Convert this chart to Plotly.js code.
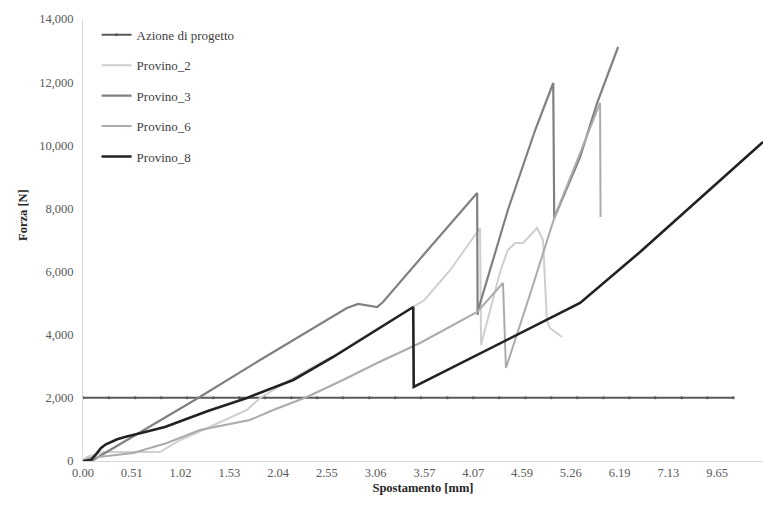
<!DOCTYPE html>
<html>
<head>
<meta charset="utf-8">
<script src="https://cdn.plot.ly/plotly-3.0.1.min.js"></script>
<style>html,body{margin:0;padding:0;background:#fff;}#chart{width:763px;height:509px;}</style>
</head>
<body>
<div id="chart"></div>
<script>
// Category tick labels (x axis is a category-style axis: position index -> label)
const tickPos = [0,1,2,3,4,5,6,7,8,9,10,11,12,13];
const tickLabels = ["0.00","0.51","1.02","1.53","2.04","2.55","3.06","3.57","4.07","4.59","5.26","6.19","7.13","9.65"];

// Azione di progetto (design load)
const azioneX = [0,0.53,1.07,1.60,2.13,2.67,3.20,3.73,4.27,4.80,5.33,5.87,6.40,6.93,7.47,8.00,8.53,9.07,9.60,10.13,10.67,11.20,11.73,12.27,12.80,13.33];
const azioneY = [2000,2000,2000,2000,2000,2000,2000,2000,2000,2000,2000,2000,2000,2000,2000,2000,2000,2000,2000,2000,2000,2000,2000,2000,2000,2000];

// Provino_2
const p2X = [0,0.08,0.41,1.58,1.99,2.46,3.36,3.63,4.31,5.13,5.95,7.00,7.53,8.00,8.14,8.16,8.35,8.55,8.71,8.86,9.02,9.17,9.31,9.43,9.49,9.51,9.57,9.82];
const p2Y = [0,127,285,285,665,982,1615,1996,2629,3326,4118,5100,6050,7095,7380,3675,4783,5987,6684,6906,6906,7160,7380,7000,5100,4466,4213,3928];

// Provino_3
const p3X = [0,0.21,2.36,3.63,5.41,5.64,6.03,6.15,7.12,8.08,8.09,8.10,8.71,9.27,9.64,9.66,10.19,10.54,10.97];
const p3Y = [0,32,1996,3199,4846,4973,4878,5036,6778,8489,4625,4783,7950,10484,11973,7697,9629,11340,13113];

// Provino_6
const p6X = [0,0.14,1.03,1.72,2.40,3.42,3.90,4.59,5.33,6.03,6.91,8.08,8.61,8.67,9.16,9.68,10.15,10.60,10.61];
const p6Y = [0,95,253,570,982,1299,1615,2027,2566,3104,3738,4720,5638,2946,5258,7792,9597,11340,7729];

// Provino_8
const p8X = [0,0.16,0.27,0.37,0.47,0.57,0.70,0.86,1.27,1.68,2.12,2.56,3.36,4.31,5.13,5.95,6.77,6.78,10.19,11.42,12.79,13.94];
const p8Y = [0,30,220,412,530,602,690,760,919,1077,1330,1584,1996,2566,3294,4086,4878,2344,5005,6620,8521,10104];

const serif = "Liberation Serif, Times New Roman, serif";

const traces = [
  {name:"Azione di progetto", x:azioneX, y:azioneY, mode:"lines+markers",
   line:{color:"#5a5a5a", width:2}, marker:{color:"#5a5a5a", size:3}, legendgroup:"a"},
  {name:"Provino_2", x:p2X, y:p2Y, mode:"lines", line:{color:"#cfcfcf", width:2}, legendgroup:"b"},
  {name:"Provino_3", x:p3X, y:p3Y, mode:"lines", line:{color:"#808080", width:2.2}, legendgroup:"c"},
  {name:"Provino_6", x:p6X, y:p6Y, mode:"lines", line:{color:"#ababab", width:2}, legendgroup:"d"},
  {name:"Provino_8", x:p8X, y:p8Y, mode:"lines", line:{color:"#222222", width:2.6}, legendgroup:"e"}
];

const layout = {
  width:763, height:509,
  margin:{l:83, r:0, t:19, b:48},
  paper_bgcolor:"#ffffff", plot_bgcolor:"#ffffff",
  font:{family:serif, size:12, color:"#595959"},
  showlegend:true,
  legend:{x:0.02, y:0.998, xanchor:"left", yanchor:"top",
    font:{family:serif, size:13, color:"#404040"}, tracegroupgap:10.5,
    bgcolor:"rgba(0,0,0,0)", itemwidth:30},
  xaxis:{range:[0,13.94], tickmode:"array", tickvals:tickPos, ticktext:tickLabels,
    showgrid:false, zeroline:false, showline:true, linecolor:"#d9d9d9", linewidth:1,
    ticks:"", tickfont:{family:serif, size:12.5, color:"#595959"},
    title:{text:"<b>Spostamento [mm]</b>", font:{family:serif, size:12.5, color:"#262626"}, standoff:4}},
  yaxis:{range:[0,14000], dtick:2000, tickformat:",d",
    showgrid:false, zeroline:false, showline:true, linecolor:"#d9d9d9", linewidth:1,
    ticks:"", ticklabelstandoff:6, tickfont:{family:serif, size:12.5, color:"#595959"}},
  annotations:[{text:"<b>Forza [N]</b>", xref:"paper", yref:"paper", x:-0.088, y:0.557,
    xanchor:"center", yanchor:"middle", textangle:-90, showarrow:false,
    font:{family:serif, size:12.5, color:"#262626"}}]
};

Plotly.newPlot("chart", traces, layout, {displayModeBar:false, staticPlot:true});
</script>
</body>
</html>
